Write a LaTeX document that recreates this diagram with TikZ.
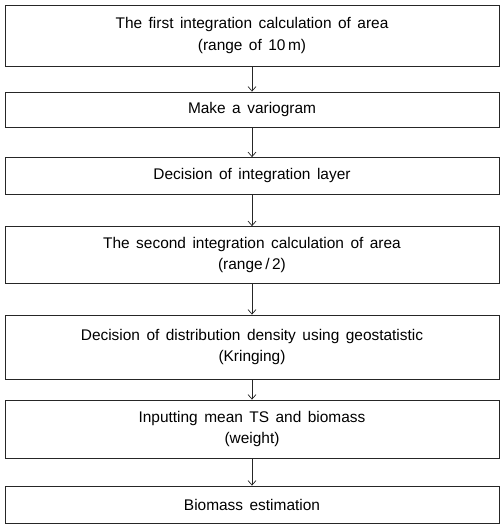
\documentclass[tikz,border=0pt]{standalone}
\usepackage{fontspec}
\setmainfont{Liberation Sans}
\usetikzlibrary{arrows.meta}

\newcommand\boxfont{\fontsize{15.5}{21.5}\selectfont\spaceskip=0.42em\relax}

\tikzset{
  stepbox/.style={draw=black!85, line width=0.8bp, minimum width=494bp,
    inner sep=0pt, align=center, font=\boxfont},
  flow/.style={draw=black!85, line width=0.7bp, -{Straight Barb[length=4.5bp,width=8bp]}}
}

\begin{document}
\begin{tikzpicture}[x=1bp, y=1bp]
      \useasboundingbox (0,0) rectangle (502,-527);
      % steps of the estimation
      \node[stepbox, minimum height=61bp] (first) at (252,-35.5) {The first integration calculation of area\\(range of 10\,m)};
      \node[stepbox, minimum height=35bp] (vario) at (252,-109.5) {Make a variogram};
      \node[stepbox, minimum height=37bp] (layer) at (252,-176) {Decision of integration layer};
      \node[stepbox, minimum height=57bp] (second) at (252,-255) {The second integration calculation of area\\(range\,/\,2)};
      \node[stepbox, minimum height=64bp] (kriging) at (252,-347) {Decision of distribution density using geostatistic\\(Kringing)};
      \node[stepbox, minimum height=58bp] (mean) at (252,-429) {Inputting mean TS and biomass\\(weight)};
      \node[stepbox, minimum height=37bp] (biomass) at (252,-504.5) {Biomass estimation};

      \draw[flow] (first) -- (vario);
      \draw[flow] (vario) -- (layer);
      \draw[flow] (layer) -- (second);
      \draw[flow] (second) -- (kriging);
      \draw[flow] (kriging) -- (mean);
      \draw[flow] (mean) -- (biomass);
    \end{tikzpicture}
\end{document}
